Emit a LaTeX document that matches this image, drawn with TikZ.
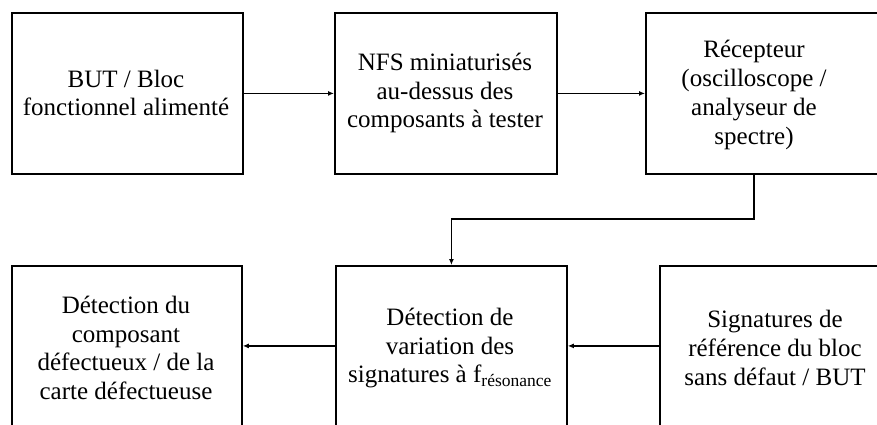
\documentclass[tikz,border=0pt]{standalone}
\usepackage{fontspec}
\setmainfont{Liberation Serif}
\usetikzlibrary{arrows.meta}
\tikzset{
  box/.style={draw=black, line width=1.8pt, fill=white},
  txt/.style={align=center, inner sep=0pt, font=\fontsize{25}{28.7}\selectfont},
  conn/.style={line width=1.6pt, -{Latex[length=6pt,width=5pt]}},
}
\begin{document}
\begin{tikzpicture}[x=1pt,y=-1pt]
\useasboundingbox (0,0) rectangle (877,424);
\fill[white] (0,0) rectangle (877,424);
\clip (0,0) rectangle (877,424);
% top row boxes
\node[box, minimum width=231pt, minimum height=161pt, anchor=north west, inner sep=0pt] (b1) at (11,12) {};
\node[box, minimum width=222pt, minimum height=161pt, anchor=north west, inner sep=0pt] (b2) at (334,12) {};
\node[box, minimum width=240pt, minimum height=161pt, anchor=north west, inner sep=0pt] (b3) at (645,12) {};
% bottom row boxes
\node[box, minimum width=230pt, minimum height=160pt, anchor=north west, inner sep=0pt] (b4) at (11,265) {};
\node[box, minimum width=231pt, minimum height=160pt, anchor=north west, inner sep=0pt] (b5) at (335,265) {};
\node[box, minimum width=240pt, minimum height=160pt, anchor=north west, inner sep=0pt] (b6) at (659,265) {};
% texts
\node[txt] (t1) at (126,93) {BUT / Bloc\\fonctionnel alimenté};
\node[txt] (t2) at (445,93) {NFS miniaturisés\\au-dessus des\\composants à tester};
\node[txt] (t3) at (754,95) {Récepteur\\(oscilloscope /\\analyseur de\\spectre)};
\node[txt] (t4) at (126,348) {Détection du\\composant\\défectueux / de la\\carte défectueuse};
\node[txt] (t5) at (450,348) {Détection de\\variation des\\signatures à f\textsubscript{résonance}};
\node[txt] (t6) at (775,348) {Signatures de\\référence du bloc\\sans défaut / BUT};
% connectors
\coordinate (m) at (754,219);
\draw[conn] (b1.east) -- (b2.west);
\draw[conn] (b2.east) -- (b2.east -| b3.west);
\draw[conn] (t3 |- b3.south) -- (m) -| (b5.north);
\draw[conn] (b5.west) -- (b5.west -| b4.east);
\draw[conn] (b6.west) -- (b6.west -| b5.east);
\end{tikzpicture}
\end{document}
